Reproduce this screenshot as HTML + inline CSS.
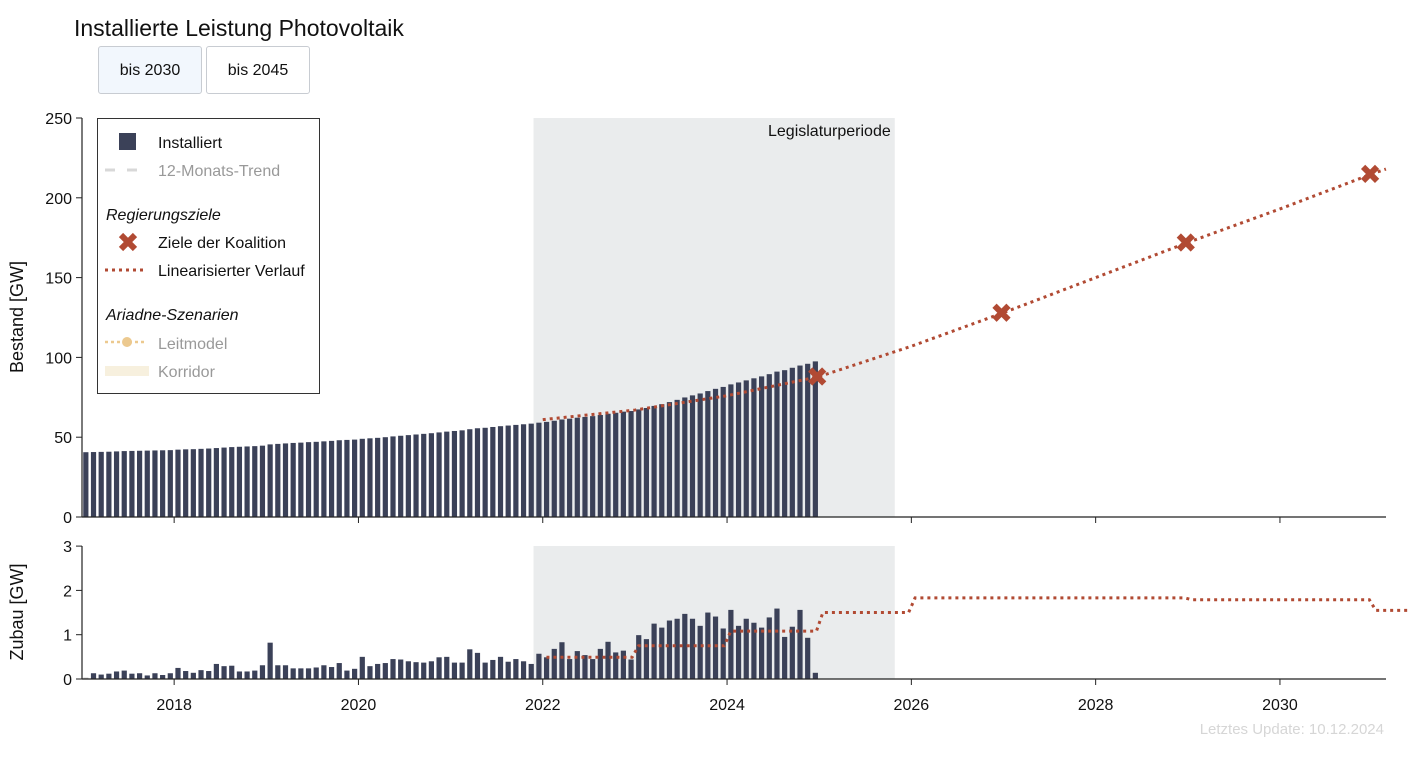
<!DOCTYPE html>
<html><head><meta charset="utf-8">
<style>
html,body{margin:0;padding:0;background:#fff;width:1411px;height:757px;overflow:hidden;font-family:"Liberation Sans",Arial,sans-serif;}
.btn{position:absolute;top:46px;height:48px;width:104px;border:1px solid #c8ccd2;border-radius:3px;font-size:16px;line-height:48px;text-align:center;color:#111;background:#fff;box-sizing:border-box;}
</style></head><body>
<div style="position:absolute;left:74px;top:15px;font-size:23px;color:#111;">Installierte Leistung Photovoltaik</div>
<div class="btn" style="left:98px;background:#f2f7fd;">bis 2030</div>
<div class="btn" style="left:206px;">bis 2045</div>
<svg id="chart" width="1411" height="757" style="position:absolute;left:0;top:0" font-family="Liberation Sans, Arial, sans-serif"></svg>
<script>
const bestand = [
40.6,40.7,40.8,40.9,41.1,41.3,41.4,41.5,41.6,41.7,41.8,41.9,
42.2,42.4,42.5,42.7,42.9,43.2,43.5,43.8,44.0,44.2,44.4,44.7,
45.5,45.8,46.1,46.4,46.6,46.9,47.1,47.4,47.7,48.1,48.3,48.5,
49.0,49.3,49.6,50.0,50.5,50.9,51.3,51.7,52.1,52.5,53.0,53.5,
53.9,54.3,55.0,55.6,55.9,56.4,56.9,57.3,57.7,58.1,58.5,59.1,
59.6,60.3,61.1,61.6,62.2,62.7,63.2,63.9,64.7,65.3,66.0,66.4,
67.4,68.3,69.6,70.7,72.0,73.4,74.9,76.2,77.4,78.9,80.3,81.5,
83.1,84.3,85.6,86.9,88.1,89.5,91.1,92.0,93.5,94.9,96.0,97.5];
const zubau = [
0.03,0.13,0.1,0.12,0.17,0.19,0.12,0.13,0.08,0.13,0.09,0.13,
0.25,0.18,0.14,0.2,0.18,0.34,0.29,0.3,0.17,0.17,0.19,0.31,
0.82,0.31,0.31,0.24,0.24,0.24,0.26,0.31,0.27,0.36,0.19,0.23,
0.5,0.29,0.34,0.36,0.45,0.44,0.4,0.38,0.37,0.4,0.49,0.5,
0.37,0.37,0.67,0.59,0.37,0.43,0.5,0.39,0.45,0.4,0.34,0.57,
0.49,0.68,0.83,0.45,0.63,0.54,0.45,0.68,0.84,0.6,0.64,0.44,
0.99,0.9,1.25,1.16,1.32,1.36,1.47,1.36,1.2,1.5,1.41,1.14,
1.56,1.2,1.36,1.27,1.16,1.39,1.59,0.95,1.18,1.56,0.93,0.14];
const targetYears = [2022.0,2023.0,2024.0,2025.0,2026.0,2027.0,2028.0,2029.0,2030.0,2031.0,2031.15];
const targetVals = [61,67,76,88,107,128,150,172,193,215,218];
const goalYears = [2025.0,2027.0,2029.0,2031.0];
const goalVals = [88,128,172,215];
const stepYears = [2022,2023,2024,2025,2026,2027,2028,2029,2030,2031];
const stepVals = [0.49,0.75,1.08,1.5,1.83,1.83,1.83,1.79,1.79,1.55];
const xTicks = [2018,2020,2022,2024,2026,2028,2030];
const yTicksTop = [0,50,100,150,200,250];
const yTicksBot = [0,1,2,3];

const svg = document.getElementById('chart');
const NS='http://www.w3.org/2000/svg';
function el(tag, attrs, parent){const e=document.createElementNS(NS,tag);for(const k in attrs)e.setAttribute(k,attrs[k]);(parent||svg).appendChild(e);return e;}
const X = y => 82 + (y-2017.0)*92.15;
const YT = v => 517 - v*1.596;
const YB = v => 679 - v*44.3;
const RED='#b14a33', BAR='#3b4158';

// shading
let s1=el('rect',{x:X(2021.9),y:118,width:X(2025.82)-X(2021.9),height:399,fill:'#eaeced'});


let s2=el('rect',{x:X(2021.9),y:546,width:X(2025.82)-X(2021.9),height:133,fill:'#eaeced'});


let lt=el('text',{x:X(2025.82)-4,y:136,'text-anchor':'end','font-size':16,fill:'#111'});lt.textContent='Legislaturperiode';



// bars
bestand.forEach((v,i)=>{const t=2017+i/12+1/24;
 const r=el('rect',{x:X(t)-2.6,y:YT(v),width:5.2,height:YT(0)-YT(v),fill:BAR});
 
 });
zubau.forEach((v,i)=>{const t=2017+i/12+1/24;
 const r=el('rect',{x:X(t)-2.6,y:YB(v),width:5.2,height:YB(0)-YB(v),fill:i==0?'#bbb':BAR});
 
 });

// target line top
let tp=el('polyline',{points:targetYears.map((y,i)=>X(y)+','+YT(targetVals[i])).join(' '),fill:'none',stroke:RED,'stroke-width':3,'stroke-dasharray':'3,4'});


goalYears.forEach((y,i)=>{const cx=X(y)-2,cy=YT(goalVals[i]);
 const g=el('path',{d:`M${cx-7},${cy-7}L${cx+7},${cy+7}M${cx+7},${cy-7}L${cx-7},${cy+7}`,stroke:RED,'stroke-width':6});
 
 });

// step line bottom
let pts=[];stepYears.forEach((y,i)=>{pts.push(X(y+0.04)+','+YB(stepVals[i]));pts.push(X(y+0.97)+','+YB(stepVals[i]));});
let sp=el('polyline',{points:pts.join(' '),fill:'none',stroke:RED,'stroke-width':3,'stroke-dasharray':'3,4'});



// axes
el('line',{x1:82,y1:118,x2:82,y2:517,stroke:'#222','stroke-width':1.2});
el('line',{x1:82,y1:517,x2:1386,y2:517,stroke:'#222','stroke-width':1.2});
el('line',{x1:82,y1:546,x2:82,y2:679,stroke:'#222','stroke-width':1.2});
el('line',{x1:82,y1:679,x2:1386,y2:679,stroke:'#222','stroke-width':1.2});
yTicksTop.forEach(v=>{el('line',{x1:76,x2:82,y1:YT(v),y2:YT(v),stroke:'#222'});
 const t=el('text',{x:72,y:YT(v)+6,'text-anchor':'end','font-size':16,fill:'#111'});t.textContent=v;
 
 });
yTicksBot.forEach(v=>{el('line',{x1:76,x2:82,y1:YB(v),y2:YB(v),stroke:'#222'});
 const t=el('text',{x:72,y:YB(v)+6,'text-anchor':'end','font-size':16,fill:'#111'});t.textContent=v;
 
 });
xTicks.forEach(y=>{el('line',{x1:X(y),x2:X(y),y1:517,y2:523,stroke:'#222'});
 el('line',{x1:X(y),x2:X(y),y1:679,y2:685,stroke:'#222'});
 const t=el('text',{x:X(y),y:710,'text-anchor':'middle','font-size':16,fill:'#111'});t.textContent=y;
 
 });
let ya=el('text',{x:0,y:0,transform:'translate(23,317) rotate(-90)','text-anchor':'middle','font-size':18,fill:'#111'});ya.textContent='Bestand [GW]';


let yb=el('text',{x:0,y:0,transform:'translate(23,612) rotate(-90)','text-anchor':'middle','font-size':18,fill:'#111'});yb.textContent='Zubau [GW]';


let up=el('text',{x:1384,y:734,'text-anchor':'end','font-size':15,fill:'#d6d6d6'});up.textContent='Letztes Update: 10.12.2024';



// legend
const lg=el('g',{});


el('rect',{x:97.5,y:118.5,width:222,height:275,fill:'#fff',stroke:'#333','stroke-width':1},lg);
el('rect',{x:119,y:133,width:17,height:17,fill:BAR},lg);
function lt2(x,y,txt,col,it,name){const t=el('text',{x:x,y:y,'font-size':16,fill:col,'font-style':it?'italic':'normal'},lg);t.textContent=txt;
 
 }
lt2(158,148,'Installiert','#111',0,'legend-installiert');
el('line',{x1:105,x2:147,y1:170,y2:170,stroke:'#d8d8d8','stroke-width':3,'stroke-dasharray':'10,12'},lg);
lt2(158,176,'12-Monats-Trend','#999',0,'legend-trend');
lt2(106,220,'Regierungsziele','#111',1,'legend-group-regierungsziele');
el('path',{d:'M121,235L135,249M135,235L121,249',stroke:RED,'stroke-width':6},lg);
lt2(158,248,'Ziele der Koalition','#111',0,'legend-ziele');
el('line',{x1:105,x2:147,y1:270,y2:270,stroke:RED,'stroke-width':3,'stroke-dasharray':'3,4'},lg);
lt2(158,276,'Linearisierter Verlauf','#111',0,'legend-verlauf');
lt2(106,320,'Ariadne-Szenarien','#111',1,'legend-group-ariadne');
el('line',{x1:105,x2:147,y1:342,y2:342,stroke:'#ecc98f','stroke-width':2.5,'stroke-dasharray':'3,3'},lg);
el('circle',{cx:127,cy:342,r:5,fill:'#ecc98f'},lg);
lt2(158,349,'Leitmodel','#999',0,'legend-leitmodel');
el('rect',{x:105,y:366,width:44,height:10,fill:'#f7f0de'},lg);
lt2(158,377,'Korridor','#999',0,'legend-korridor');
</script>
</body></html>
